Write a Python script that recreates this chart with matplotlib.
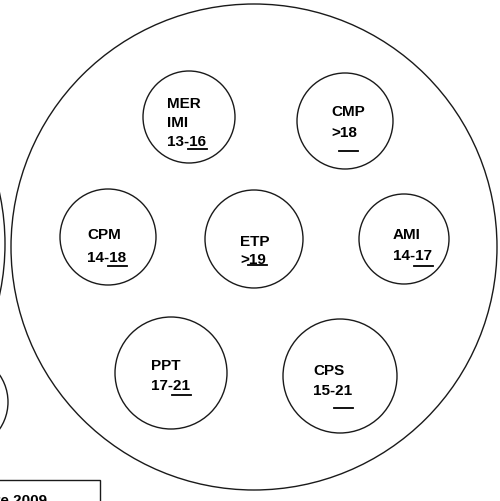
import matplotlib.pyplot as plt
from matplotlib.patches import Circle, Rectangle

# circles (pixel coords, y downwards)
names = ["MER", "CMP", "CPM", "ETP", "AMI", "PPT", "CPS"]
cx = [189, 345, 108, 254, 404, 171, 340]
cy = [118, 122, 238, 240, 240, 374, 377]
radius = [46, 48, 48, 49, 45, 56, 57]

# labels: lines, left x, line y's, underlined tail of last line, underline y
label_lines = [["MER", "IMI", "13-16"], ["CMP", ">18"], ["CPM", "14-18"],
               ["ETP", ">19"], ["AMI", "14-17"], ["PPT", "17-21"], ["CPS", "15-21"]]
label_x = [167, 331, 87, 240, 393, 151, 313]
label_y = [[104, 123, 142], [112, 133], [235, 258], [242, 260], [235, 256],
           [366, 386], [371, 391]]
underlined = ["16", "18", "18", "19", "17", "21", "21"]
underline_y = [150, 152, 267, 266, 267, 396, 409]

big_circles = [(254, 248, 243), (-237, 245, 242)]
side_circle = (-40, 403, 48)
footer_text = "Septembre 2009"

fig = plt.figure(figsize=(5, 5.02), dpi=100)
ax = fig.add_axes([0, 0, 1, 1])
ax.set_xlim(0, 500)
ax.set_ylim(502, 0)
ax.axis("off")

lc = "#1a1a1a"
for bx, by, br in big_circles:
    ax.add_patch(Circle((bx, by), br, fill=False, lw=1.0, ec=lc))
ax.add_patch(Circle(side_circle[:2], side_circle[2], fill=False, lw=1.0, ec=lc))

for x, y, r in zip(cx, cy, radius):
    ax.add_patch(Circle((x, y), r, fill=False, lw=1.0, ec=lc))

font = dict(family="Liberation Sans", weight="bold", size=11, color="black")
last_texts = []
for lines, lx, ys in zip(label_lines, label_x, label_y):
    for line, ly in zip(lines, ys):
        t = ax.text(lx, ly, line, ha="left", va="center", **font)
    last_texts.append(t)

# box at the bottom left
ax.add_patch(Rectangle((-5, 481), 105, 40, fill=False, lw=1.0, ec=lc))
ax.text(47, 501, footer_text, ha="right", va="center", **font)

# underlines under the tail digits
fig.canvas.draw()
rend = fig.canvas.get_renderer()
inv = ax.transData.inverted()
for t, tail, uy in zip(last_texts, underlined, underline_y):
    full = t.get_window_extent(rend)
    tmp = ax.text(0, 0, tail, **font)
    w = tmp.get_window_extent(rend).width
    tmp.remove()
    x1 = inv.transform((full.x1, 0))[0]
    x0 = inv.transform((full.x1 - w, 0))[0]
    ax.plot([x0 - 1, x1 + 1], [uy, uy], color="black", lw=1.3)

fig.savefig("out.png", dpi=100)
